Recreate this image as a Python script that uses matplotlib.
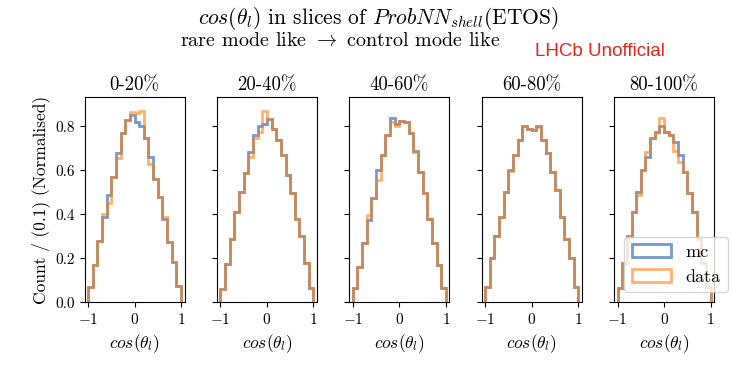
import numpy as np
import matplotlib
matplotlib.use('Agg')
import matplotlib.pyplot as plt

plt.rcParams['font.family'] = 'serif'
plt.rcParams['font.serif'] = ['cmr10']
plt.rcParams['mathtext.fontset'] = 'cm'
plt.rcParams['axes.formatter.use_mathtext'] = True
plt.rcParams['axes.unicode_minus'] = True

edges = np.linspace(-1, 1, 21)
slices = ['0-20%', '20-40%', '40-60%', '60-80%', '80-100%']

# normalised counts per bin (20 bins from -1 to 1)
mc_0 = [0.068, 0.17, 0.28, 0.39, 0.49, 0.57, 0.68, 0.77, 0.83, 0.85,
        0.82, 0.80, 0.745, 0.66, 0.56, 0.48, 0.38, 0.276, 0.185, 0.072]
data_0 = [0.068, 0.17, 0.28, 0.40, 0.45, 0.57, 0.655, 0.77, 0.83, 0.867,
          0.86, 0.87, 0.745, 0.63, 0.56, 0.48, 0.39, 0.276, 0.185, 0.076]
mc_1 = [0.059, 0.174, 0.29, 0.41, 0.50, 0.586, 0.685, 0.76, 0.80, 0.81,
        0.833, 0.79, 0.738, 0.67, 0.58, 0.495, 0.38, 0.30, 0.177, 0.067]
data_1 = [0.059, 0.174, 0.29, 0.41, 0.50, 0.586, 0.66, 0.745, 0.775, 0.87,
          0.833, 0.79, 0.738, 0.67, 0.58, 0.495, 0.38, 0.30, 0.177, 0.067]
mc_2 = [0.064, 0.162, 0.268, 0.374, 0.473, 0.60, 0.67, 0.76, 0.836, 0.81,
        0.824, 0.82, 0.768, 0.69, 0.594, 0.495, 0.38, 0.268, 0.17, 0.064]
data_2 = [0.064, 0.162, 0.268, 0.397, 0.473, 0.556, 0.67, 0.76, 0.82, 0.80,
          0.824, 0.82, 0.768, 0.685, 0.594, 0.495, 0.38, 0.268, 0.17, 0.064]
mc_3 = [0.071, 0.20, 0.30, 0.39, 0.503, 0.60, 0.67, 0.738, 0.80, 0.79,
        0.783, 0.80, 0.738, 0.677, 0.594, 0.51, 0.39, 0.29, 0.20, 0.071]
data_3 = [0.071, 0.20, 0.30, 0.39, 0.503, 0.595, 0.67, 0.738, 0.80, 0.79,
          0.783, 0.795, 0.738, 0.677, 0.594, 0.51, 0.39, 0.29, 0.20, 0.071]
mc_4 = [0.067, 0.18, 0.30, 0.41, 0.50, 0.60, 0.66, 0.745, 0.775, 0.80,
        0.775, 0.76, 0.73, 0.67, 0.594, 0.495, 0.41, 0.29, 0.18, 0.07]
data_4 = [0.067, 0.18, 0.30, 0.41, 0.49, 0.60, 0.685, 0.745, 0.775, 0.836,
          0.775, 0.76, 0.69, 0.64, 0.594, 0.495, 0.41, 0.29, 0.18, 0.07]

mc_all = [mc_0, mc_1, mc_2, mc_3, mc_4]
data_all = [data_0, data_1, data_2, data_3, data_4]

centres = 0.5 * (edges[:-1] + edges[1:])
blue = '#3a6fb8'
orange = '#ff7f0e'

fig = plt.figure(figsize=(7.33, 3.72), dpi=100)
W, H = 733.0, 372.0
axes = []
for i in range(5):
    left = 84.5 + 132.4 * i
    ax = fig.add_axes([left / W, (H - 302.3) / H, 100 / W, 205.6 / H])
    axes.append(ax)
    ax.hist(centres, bins=edges, weights=mc_all[i], histtype='step',
            color=blue, alpha=0.7, linewidth=2, label='mc')
    ax.hist(centres, bins=edges, weights=data_all[i], histtype='step',
            color=orange, alpha=0.6, linewidth=2, label='data')
    ax.set_xlim(-1.075, 1.075)
    ax.set_ylim(0, 0.935)
    ax.set_xticks([-1, 0, 1])
    ax.set_yticks([0, 0.2, 0.4, 0.6, 0.8])
    ax.tick_params(labelsize=11)
    ax.set_title(slices[i], fontsize=13.5, pad=5)
    ax.set_xlabel(r'$cos(\theta_l)$', fontsize=12.5)
    if i == 0:
        ax.set_yticklabels(['0.0', '0.2', '0.4', '0.6', '0.8'])
        ax.set_ylabel('Count / (0.1) (Normalised)', fontsize=12.5)
    else:
        ax.set_yticklabels([])

axes[-1].legend(loc='lower right', bbox_to_anchor=(728 / W, (H - 292) / H),
                bbox_transform=fig.transFigure, borderaxespad=0,
                fontsize=13, handlelength=2.2)

fig.text(198 / W, 1 - 24.5 / H, r'$cos(\theta_l)$ in slices of $ProbNN_{shell}$(ETOS)',
         ha='left', va='baseline', fontsize=15.5)
fig.text(180 / W, 1 - 45.5 / H, r'rare mode like $\rightarrow$ control mode like',
         ha='left', va='baseline', fontsize=14.5)
fig.text(535 / W, 1 - 52 / H, 'LHCb Unofficial', ha='left', va='center',
         fontsize=13.5, color='#e3261c', family='Liberation Sans')

fig.savefig('out.png', dpi=100)
